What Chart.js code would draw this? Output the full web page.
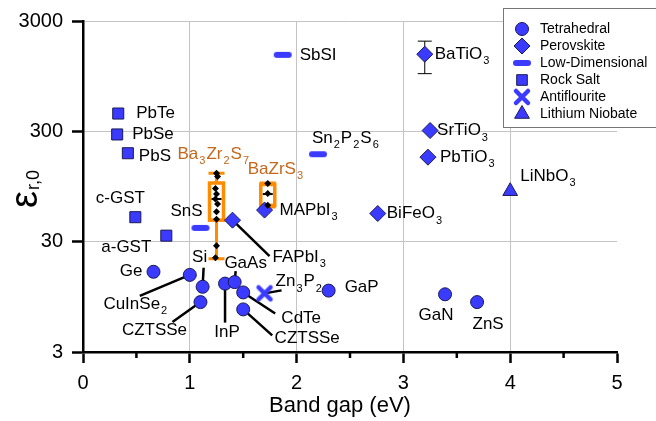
<!DOCTYPE html>
<html>
<head>
<meta charset="utf-8">
<script src="https://cdn.jsdelivr.net/npm/chart.js@4.4.1/dist/chart.umd.min.js"></script>
<style>
  body { margin: 0; background: #fff; }
  #wrap { width: 656px; height: 421px; }
</style>
</head>
<body>
<div id="wrap"><canvas id="myChart" width="656" height="421"></canvas></div>
<script>
// ---- data (band gap in eV, static dielectric constant) ----
const tetraNames = ["Ge", "CuInSe_2", "Si", "CZTSSe", "InP", "GaAs", "CdTe", "CZTSSe", "GaP", "GaN", "ZnS"];
const tetraGap = [0.66, 1.0, 1.12, 1.10, 1.33, 1.42, 1.50, 1.50, 2.30, 3.39, 3.69];
const tetraEps = [16, 15, 11.7, 8.5, 12.5, 12.9, 10.4, 7.3, 10.8, 10.0, 8.5];

const perovNames = ["BaTiO_3", "SrTiO_3", "PbTiO_3", "BiFeO_3", "MAPbI_3", "FAPbI_3"];
const perovGap = [3.20, 3.25, 3.23, 2.76, 1.70, 1.40];
const perovEps = [1500, 305, 175, 54, 58, 47];
const perovErrLow = [1000, null, null, null, null, null];
const perovErrHigh = [1970, null, null, null, null, null];

const lowDimNames = ["SbSI", "Sn_2P_2S_6", "SnS"];
const lowDimGap = [1.87, 2.20, 1.10];
const lowDimEps = [1480, 186, 40];

const rockNames = ["PbTe", "PbSe", "PbS", "c-GST", "a-GST"];
const rockGap = [0.33, 0.32, 0.42, 0.49, 0.78];
const rockEps = [435, 281, 190, 50, 34];

const antiNames = ["Zn_3P_2"];
const antiGap = [1.70];
const antiEps = [10.2];

const niobNames = ["LiNbO_3"];
const niobGap = [4.0];
const niobEps = [86];

// box plots for the chalcogenide perovskites
const boxNames = ["Ba_3Zr_2S_7", "BaZrS_3"];
const boxGap = [1.25, 1.73];
const boxMin = [21, 62];
const boxQ1 = [47, 64];
const boxMedian = [73, 81];
const boxQ3 = [102, 99];
const boxMax = [125, 102];

const ba3Gap = [1.25, 1.26, 1.24, 1.25, 1.24, 1.26, 1.25, 1.25, 1.25, 1.24];
const ba3Eps = [125, 117, 91, 81, 73, 66, 56, 48, 27.5, 21.5];
const bazrGap = [1.73, 1.73, 1.73];
const bazrEps = [101, 82, 64];

const xTicks = [0, 1, 2, 3, 4, 5];
const yTicks = [3, 30, 300, 3000];

// ---- label placement (pixel offsets from the point: dx, dy, align, leader dx, leader dy) ----
const tetraLabelPos = [
  [-11, 0, "right"], [-54, 29, "center", -50, 21], [-3, -29, "center", 1, -19],
  [-46, 28, "center", -28, 20], [2, 49, "center", 0, 39], [11, -19, "center", 1, -11],
  [58, 26, "center", 32, 21], [64, 29, "center", 29, 26], [16, -3, "left"],
  [-9, 21, "center"], [11, 22, "center"]
];
const perovLabelPos = [[10, 0, "left"], [7, 0, "left"], [12, 0, "left"], [9, 0, "left"], [15, 0, "left"], [40, 37, "left", 37, 36]];
const lowDimLabelPos = [[17, 0, "left"], [-6, -16, "left"], [-14, -17, "center"]];
const rockLabelPos = [[18, 0, "left"], [15, 0, "left"], [11, 3, "left"], [-15, -19, "center"], [-40, 12, "center"]];
const antiLabelPos = [[11, -12, "left", 17, -3]];
const niobLabelPos = [[10, -15, "left"]];
const boxLabelPos = [[-39, -19, "left"], [-20, -14, "left"]];

const FONT = '"Liberation Sans", Arial, sans-serif';
const BLUE = "#3b3bff";
const EDGE = "#1a1a55";
const ORANGE = "#ff8c00";
const ORANGE_TEXT = "#c4681c";
const GRID = "#c4c4c4";

Chart.defaults.font.family = FONT;

const pts = (xs, ys) => xs.map((x, i) => ({ x: x, y: ys[i] }));

function dashMarker() {
  const c = document.createElement("canvas");
  c.width = 22; c.height = 10;
  const g = c.getContext("2d");
  g.strokeStyle = BLUE; g.lineWidth = 6; g.lineCap = "round";
  g.beginPath(); g.moveTo(5, 5); g.lineTo(17, 5); g.stroke();
  return c;
}
function crossMarker() {
  const c = document.createElement("canvas");
  c.width = 20; c.height = 20;
  const g = c.getContext("2d");
  g.strokeStyle = BLUE; g.lineWidth = 4.5; g.lineCap = "round";
  g.beginPath();
  g.moveTo(4, 4); g.lineTo(16, 16);
  g.moveTo(16, 4); g.lineTo(4, 16);
  g.stroke();
  return c;
}
const DASH = dashMarker();
const CROSS = crossMarker();

// draw text where "_x" means subscript x
function richText(ctx, str, x, y, size, align, color) {
  const parts = [];
  for (let i = 0; i < str.length; i++) {
    if (str[i] === "_") { parts.push({ t: str[i + 1], sub: true }); i++; }
    else if (parts.length && !parts[parts.length - 1].sub) parts[parts.length - 1].t += str[i];
    else parts.push({ t: str[i], sub: false });
  }
  const subSize = Math.round(size * 0.65);
  let total = 0;
  parts.forEach((p) => {
    ctx.font = (p.sub ? subSize : size) + "px " + FONT;
    p.w = ctx.measureText(p.t).width + (p.sub ? 2 : 0);
    total += p.w;
  });
  let cx = align === "left" ? x : align === "right" ? x - total : x - total / 2;
  ctx.fillStyle = color;
  ctx.textBaseline = "middle";
  ctx.textAlign = "left";
  parts.forEach((p) => {
    ctx.font = (p.sub ? subSize : size) + "px " + FONT;
    ctx.fillText(p.t, cx + (p.sub ? 1 : 0), p.sub ? y + size * 0.42 : y);
    cx += p.w;
  });
}

const groups = [
  { names: tetraNames, gap: tetraGap, eps: tetraEps, pos: tetraLabelPos },
  { names: perovNames, gap: perovGap, eps: perovEps, pos: perovLabelPos },
  { names: lowDimNames, gap: lowDimGap, eps: lowDimEps, pos: lowDimLabelPos },
  { names: rockNames, gap: rockGap, eps: rockEps, pos: rockLabelPos },
  { names: antiNames, gap: antiGap, eps: antiEps, pos: antiLabelPos },
  { names: niobNames, gap: niobGap, eps: niobEps, pos: niobLabelPos }
];

const overlay = {
  id: "overlay",
  beforeDatasetsDraw(chart) {
    const ctx = chart.ctx;
    const xs = chart.scales.x, ys = chart.scales.y;
    ctx.save();
    // leader lines
    ctx.strokeStyle = "#000";
    ctx.lineWidth = 2.5;
    groups.forEach((g) => {
      g.names.forEach((n, i) => {
        const p = g.pos[i];
        if (p.length < 5) return;
        const px = xs.getPixelForValue(g.gap[i]), py = ys.getPixelForValue(g.eps[i]);
        ctx.beginPath(); ctx.moveTo(px, py); ctx.lineTo(px + p[3], py + p[4]); ctx.stroke();
      });
    });
    // error bar
    ctx.lineWidth = 1;
    perovErrLow.forEach((lo, i) => {
      if (lo == null) return;
      const px = xs.getPixelForValue(perovGap[i]);
      const y1 = ys.getPixelForValue(lo), y2 = ys.getPixelForValue(perovErrHigh[i]);
      ctx.beginPath();
      ctx.moveTo(px, y1); ctx.lineTo(px, y2);
      ctx.moveTo(px - 7, y1); ctx.lineTo(px + 7, y1);
      ctx.moveTo(px - 7, y2); ctx.lineTo(px + 7, y2);
      ctx.stroke();
    });
    // box plots
    boxGap.forEach((bx, i) => {
      const px = xs.getPixelForValue(bx);
      const yMin = ys.getPixelForValue(boxMin[i]), yMax = ys.getPixelForValue(boxMax[i]);
      const yQ1 = ys.getPixelForValue(boxQ1[i]), yQ3 = ys.getPixelForValue(boxQ3[i]);
      const yMed = ys.getPixelForValue(boxMedian[i]);
      ctx.strokeStyle = ORANGE;
      ctx.lineWidth = 3;
      ctx.beginPath();
      ctx.moveTo(px, yMin); ctx.lineTo(px, yMax);
      ctx.moveTo(px - 8, yMin); ctx.lineTo(px + 8, yMin);
      ctx.moveTo(px - 8, yMax); ctx.lineTo(px + 8, yMax);
      ctx.stroke();
      ctx.fillStyle = "#fff";
      ctx.lineWidth = 3.5;
      ctx.fillRect(px - 7, yQ3, 14, yQ1 - yQ3);
      ctx.strokeRect(px - 7, yQ3, 14, yQ1 - yQ3);
      ctx.strokeStyle = "#000";
      ctx.lineWidth = 2;
      ctx.beginPath(); ctx.moveTo(px - 5, yMed); ctx.lineTo(px + 5, yMed); ctx.stroke();
    });
    ctx.restore();
  },
  afterDatasetsDraw(chart) {
    const ctx = chart.ctx;
    const xs = chart.scales.x, ys = chart.scales.y;
    ctx.save();
    groups.forEach((g) => {
      g.names.forEach((n, i) => {
        const p = g.pos[i];
        const px = xs.getPixelForValue(g.gap[i]), py = ys.getPixelForValue(g.eps[i]);
        richText(ctx, n, px + p[0], py + p[1], 17, p[2], "#000");
      });
    });
    boxNames.forEach((n, i) => {
      const p = boxLabelPos[i];
      const px = xs.getPixelForValue(boxGap[i]), py = ys.getPixelForValue(boxMax[i]);
      richText(ctx, n, px + p[0], py + p[1], 17, p[2], ORANGE_TEXT);
    });
    ctx.restore();
  },
  afterDraw(chart) {
    const ctx = chart.ctx;
    const xs = chart.scales.x;
    const area = chart.chartArea;
    ctx.save();
    // minor ticks on x
    ctx.strokeStyle = "#000";
    ctx.lineWidth = 2.5;
    for (let v = 0.5; v < 5; v += 1) {
      const px = xs.getPixelForValue(v);
      ctx.beginPath(); ctx.moveTo(px, area.bottom); ctx.lineTo(px, area.bottom + 6); ctx.stroke();
    }
    // x title
    ctx.fillStyle = "#000";
    ctx.font = "22px " + FONT;
    ctx.textAlign = "center";
    ctx.textBaseline = "alphabetic";
    ctx.fillText("Band gap (eV)", (area.left + area.right) / 2 - 10, 412);
    // y title: epsilon r,0
    ctx.save();
    ctx.translate(37, 208);
    ctx.rotate(-Math.PI / 2);
    ctx.textAlign = "left";
    ctx.font = "38px " + FONT;
    ctx.fillText("\u03b5", 0, 0);
    const w = ctx.measureText("\u03b5").width;
    ctx.font = "18px " + FONT;
    ctx.fillText("r,0", w + 1, 2);
    ctx.restore();
    // legend
    ctx.fillStyle = "#fff";
    ctx.strokeStyle = "#777";
    ctx.lineWidth = 1;
    ctx.fillRect(503.5, 8.5, 160, 119);
    ctx.strokeRect(503.5, 8.5, 160, 119);
    const items = [
      ["Tetrahedral", { pointStyle: "circle", radius: 6.5 }],
      ["Perovskite", { pointStyle: "rectRot", radius: 8 }],
      ["Low-Dimensional", { pointStyle: DASH, radius: 8 }],
      ["Rock Salt", { pointStyle: "rect", radius: 7.5 }],
      ["Antiflourite", { pointStyle: CROSS, radius: 8 }],
      ["Lithium Niobate", { pointStyle: "triangle", radius: 8.5 }]
    ];
    items.forEach((it, k) => {
      const y = 29 + k * 17;
      ctx.fillStyle = BLUE;
      ctx.strokeStyle = EDGE;
      ctx.lineWidth = 1;
      Chart.helpers.drawPoint(ctx, Object.assign({ rotation: 0, borderWidth: 1 }, it[1]), 522, y);
      ctx.fillStyle = "#000";
      ctx.font = "14px " + FONT;
      ctx.textAlign = "left";
      ctx.textBaseline = "middle";
      ctx.fillText(it[0], 540, y);
    });
    ctx.restore();
  }
};

const blueSet = (label, data, style, radius) => ({
  label: label,
  data: data,
  pointStyle: style,
  pointRadius: radius,
  backgroundColor: BLUE,
  borderColor: EDGE,
  borderWidth: 1,
  showLine: false
});

const ctx = document.getElementById("myChart");
const myChart = new Chart(ctx, {
  type: "scatter",
  data: {
    datasets: [
      {
        label: "box points",
        data: pts(ba3Gap, ba3Eps).concat(pts(bazrGap, bazrEps)),
        pointStyle: "rectRot",
        pointRadius: 3.5,
        backgroundColor: "#000",
        borderColor: "#000",
        borderWidth: 0
      },
      blueSet("Tetrahedral", pts(tetraGap, tetraEps), "circle", 6.5),
      blueSet("Perovskite", pts(perovGap, perovEps), "rectRot", 8),
      blueSet("Low-Dimensional", pts(lowDimGap, lowDimEps), DASH, 8),
      blueSet("Rock Salt", pts(rockGap, rockEps), "rect", 7.8),
      blueSet("Antiflourite", pts(antiGap, antiEps), CROSS, 8),
      blueSet("Lithium Niobate", pts(niobGap, niobEps), "triangle", 8.5)
    ]
  },
  options: {
    responsive: false,
    animation: false,
    events: [],
    layout: { padding: { top: 19, right: 39, left: 0, bottom: 0 } },
    plugins: { legend: { display: false }, tooltip: { enabled: false } },
    scales: {
      x: {
        type: "linear",
        min: 0,
        max: 5,
        afterFit: (s) => { s.height = 69; },
        afterBuildTicks: (s) => { s.ticks = xTicks.map((v) => ({ value: v })); },
        ticks: { font: { size: 20 }, color: "#000", padding: 8 },
        grid: {
          color: (c) => (c.tick && (c.tick.value === 0 || c.tick.value === 5)) ? "rgba(0,0,0,0)" : GRID,
          lineWidth: 1,
          tickColor: "#000",
          tickLength: 11,
          tickWidth: 2.5
        },
        border: { color: "#000", width: 2.5 }
      },
      y: {
        type: "logarithmic",
        min: 3,
        max: 3000,
        afterFit: (s) => { s.width = 83; },
        afterBuildTicks: (s) => { s.ticks = yTicks.map((v) => ({ value: v })); },
        ticks: { font: { size: 20 }, color: "#000", padding: 9, callback: (v) => String(v) },
        grid: {
          color: (c) => (c.tick && c.tick.value === 3) ? "rgba(0,0,0,0)" : GRID,
          lineWidth: 1,
          tickColor: "#000",
          tickLength: 11,
          tickWidth: 2.5
        },
        border: { color: "#000", width: 2.5 }
      }
    }
  },
  plugins: [overlay]
});
</script>
</body>
</html>
